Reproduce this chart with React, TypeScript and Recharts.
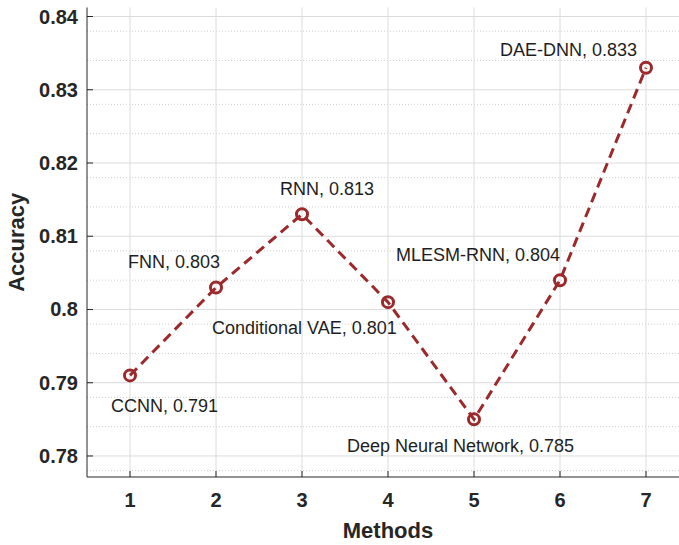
import React from "react";
import {
  LineChart,
  Line,
  XAxis,
  YAxis,
  CartesianGrid,
  LabelList,
  Label,
} from "recharts";

const methods = [1, 2, 3, 4, 5, 6, 7];
const names = [
  "CCNN",
  "FNN",
  "RNN",
  "Conditional VAE",
  "Deep Neural Network",
  "MLESM-RNN",
  "DAE-DNN",
];
const accuracy = [0.791, 0.803, 0.813, 0.801, 0.785, 0.804, 0.833];

const xTicks = [1, 2, 3, 4, 5, 6, 7];
const yTicks = [0.78, 0.79, 0.8, 0.81, 0.82, 0.83, 0.84];
const yMinor = [
  0.778, 0.782, 0.784, 0.786, 0.788, 0.792, 0.794, 0.796, 0.798, 0.802, 0.804,
  0.806, 0.808, 0.812, 0.814, 0.816, 0.818, 0.822, 0.824, 0.826, 0.828, 0.832,
  0.834, 0.836, 0.838,
];

// where each text label sits relative to its marker (left edge, middle)
const labelOffsets = [
  [-19, 31],
  [-88, -26],
  [-22, -25],
  [-176, 26],
  [-127, 27],
  [-164, -25],
  [-146, -18],
];

const data = methods.map((m, i) => ({
  method: m,
  acc: accuracy[i],
  label: `${names[i]}, ${accuracy[i]}`,
}));

const FONT = '"Liberation Sans", Arial, Helvetica, sans-serif';
const AXIS = "#262626";
const RED = "#9c2a2c";

const fmtY = (v: number) => String(Number(v.toFixed(2)));

const YTick = (props: any) => {
  const { x, y, payload } = props;
  return (
    <g>
      <line x1={x} x2={x + 6} y1={y} y2={y} stroke={AXIS} strokeWidth={1} />
      <text
        x={x - 9}
        y={y}
        textAnchor="end"
        dominantBaseline="central"
        fontFamily={FONT}
        fontWeight="bold"
        fontSize={20}
        fill={AXIS}
      >
        {fmtY(payload.value)}
      </text>
    </g>
  );
};

const XTick = (props: any) => {
  const { x, y, payload } = props;
  return (
    <g>
      <line x1={x} x2={x} y1={y} y2={y - 6} stroke={AXIS} strokeWidth={1} />
      <text
        x={x}
        y={y + 23}
        textAnchor="middle"
        dominantBaseline="central"
        fontFamily={FONT}
        fontWeight="bold"
        fontSize={20}
        fill={AXIS}
      >
        {payload.value}
      </text>
    </g>
  );
};

const TopTick = (props: any) => {
  const { x, y } = props;
  return <line x1={x} x2={x} y1={y} y2={y + 6} stroke={AXIS} strokeWidth={1} />;
};

const PointLabel = (props: any) => {
  const { x, y, index, value } = props;
  const [dx, dy] = labelOffsets[index];
  return (
    <text
      x={x + dx}
      y={y + dy}
      dominantBaseline="central"
      fontFamily={FONT}
      fontSize={18}
      fill="#1e1e1e"
    >
      {value}
    </text>
  );
};

export default function App() {
  return (
    <div
      style={{
        position: "fixed",
        left: 0,
        top: 0,
        width: 679,
        height: 545,
        overflow: "hidden",
        background: "#fff",
      }}
    >
      <LineChart
        width={700}
        height={545}
        data={data}
        margin={{ top: 7.5, right: 11, bottom: 0, left: 0 }}
      >
        <CartesianGrid
          horizontalValues={yMinor}
          vertical={false}
          stroke="#cfcfcf"
          strokeDasharray="1 2"
        />
        <CartesianGrid
          horizontalValues={yTicks}
          verticalValues={xTicks}
          stroke="#dcdcdc"
        />
        <XAxis
          dataKey="method"
          type="number"
          domain={[0.5, 7.5]}
          ticks={xTicks}
          allowDataOverflow
          height={68}
          tickSize={0}
          tickMargin={0}
          tickLine={false}
          axisLine={{ stroke: AXIS }}
          tick={<XTick />}
        >
          <Label
            content={({ viewBox }: any) => (
              <text
                x={viewBox.x + viewBox.width / 2}
                y={viewBox.y + 53}
                textAnchor="middle"
                dominantBaseline="central"
                fontFamily={FONT}
                fontWeight="bold"
                fontSize={22}
                fill={AXIS}
              >
                Methods
              </text>
            )}
          />
        </XAxis>
        <XAxis
          xAxisId="top"
          orientation="top"
          dataKey="method"
          type="number"
          domain={[0.5, 7.5]}
          ticks={xTicks}
          allowDataOverflow
          height={0}
          tickSize={0}
          tickMargin={0}
          tickLine={false}
          axisLine={{ stroke: AXIS }}
          tick={<TopTick />}
        />
        <YAxis
          type="number"
          domain={[0.77713, 0.84123]}
          ticks={yTicks}
          allowDataOverflow
          width={87}
          tickSize={0}
          tickMargin={0}
          tickLine={false}
          axisLine={{ stroke: AXIS }}
          tick={<YTick />}
        >
          <Label
            content={({ viewBox }: any) => {
              const cx = 16;
              const cy = viewBox.y + viewBox.height / 2;
              return (
                <text
                  x={cx}
                  y={cy}
                  transform={`rotate(-90, ${cx}, ${cy})`}
                  textAnchor="middle"
                  dominantBaseline="central"
                  fontFamily={FONT}
                  fontWeight="bold"
                  fontSize={22}
                  fill={AXIS}
                >
                  Accuracy
                </text>
              );
            }}
          />
        </YAxis>
        <Line
          type="linear"
          dataKey="acc"
          stroke={RED}
          strokeWidth={3}
          strokeDasharray="10 6"
          dot={{ r: 5.5, stroke: RED, strokeWidth: 3, fill: "none", strokeDasharray: "0" }}
          activeDot={false}
          isAnimationActive={false}
        >
          <LabelList dataKey="label" content={<PointLabel />} />
        </Line>
      </LineChart>
    </div>
  );
}
